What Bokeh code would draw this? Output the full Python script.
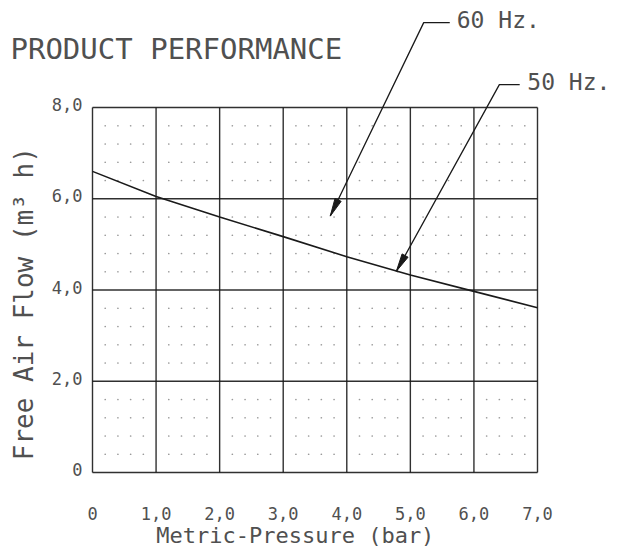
import numpy as np
from bokeh.plotting import figure
from bokeh.models import Range1d, Label
from bokeh.core.properties import value
from bokeh.embed import file_html
from bokeh.resources import INLINE

# ---- data ----
pressure = [0, 1, 2, 3, 4, 5, 6, 7]
flow = [6.6, 6.05, 5.6, 5.17, 4.73, 4.33, 3.97, 3.61]

x_ticks = [0, 1, 2, 3, 4, 5, 6, 7]
x_tick_labels = ["0", "1,0", "2,0", "3,0", "4,0", "5,0", "6,0", "7,0"]
y_ticks = [0, 2, 4, 6, 8]
y_tick_labels = ["0", "2,0", "4,0", "6,0", "8,0"]

title_text = "PRODUCT PERFORMANCE"
x_title = "Metric-Pressure (bar)"
y_title = "Free Air Flow (m³ h)"

callout_text = ["60 Hz.", "50 Hz."]
callout_tip_x = [3.74, 4.78]
callout_tip_y = [5.62, 4.41]
callout_elbow_x = [5.21, 6.40]
callout_elbow_y = [9.86, 8.50]
callout_end_x = [5.62, 6.72]
callout_text_x = [5.73, 6.84]
callout_text_y = [9.91, 8.55]

FONT = "DejaVu Sans Mono"
TXT = "#505050"
LINE = "#1a1a1a"

W, H = 612, 548
# plot box in canvas pixels (left, right, top, bottom)
BL, BR, BT, BB = 92, 537, 107, 472
XMIN, XMAX = x_ticks[0], x_ticks[-1]
YMIN, YMAX = y_ticks[0], y_ticks[-1]
sx = (BR - BL) / (XMAX - XMIN)
sy = (BB - BT) / (YMAX - YMIN)
xr = Range1d(XMIN - BL / sx, XMAX + (W - BR) / sx)
yr = Range1d(YMIN - (H - BB) / sy, YMAX + BT / sy)

p = figure(width=W, height=H, output_backend="svg", toolbar_location=None,
           x_range=xr, y_range=yr, min_border=0)
p.axis.visible = False
p.grid.visible = False
p.outline_line_color = None
p.background_fill_color = "white"
p.border_fill_color = "white"

# dot pattern: 4x4 dots in every grid cell
dx, dy = [], []
for xa, xb in zip(x_ticks[:-1], x_ticks[1:]):
    for ya, yb in zip(y_ticks[:-1], y_ticks[1:]):
        for a in (0.2, 0.4, 0.6, 0.8):
            for b in (0.2, 0.4, 0.6, 0.8):
                dx.append(xa + a * (xb - xa))
                dy.append(ya + b * (yb - ya))
p.scatter(dx, dy, size=1.7, color="#9a9a9a", line_color=None)

# grid / box
p.segment(x0=x_ticks, y0=[YMIN] * len(x_ticks), x1=x_ticks, y1=[YMAX] * len(x_ticks),
          line_color=LINE, line_width=1.4, line_alpha=0.9)
p.segment(x0=[XMIN] * len(y_ticks), y0=y_ticks, x1=[XMAX] * len(y_ticks), y1=y_ticks,
          line_color=LINE, line_width=1.4, line_alpha=0.9)

# tick labels
p.text(x=x_ticks, y=[YMIN - 41 / sy] * len(x_ticks), text=x_tick_labels,
       text_font=value(FONT), text_font_size="17px", text_color=TXT,
       text_align="center", text_baseline="middle")
p.text(x=[XMIN - 10 / sx] * len(y_ticks), y=[t + 3 / sy for t in y_ticks], text=y_tick_labels,
       text_font=value(FONT), text_font_size="17px", text_color=TXT,
       text_align="right", text_baseline="middle")

# curve
p.line(pressure, flow, line_color=LINE, line_width=1.6)

# callouts
for i in range(2):
    p.line([callout_end_x[i], callout_elbow_x[i], callout_tip_x[i]],
           [callout_elbow_y[i], callout_elbow_y[i], callout_tip_y[i]],
           line_color=LINE, line_width=1.3)
    tx, ty = callout_tip_x[i] * sx, callout_tip_y[i] * sy
    ex, ey = callout_elbow_x[i] * sx, callout_elbow_y[i] * sy
    d = np.array([tx - ex, ty - ey])
    d = d / np.linalg.norm(d)
    n = np.array([-d[1], d[0]])
    L, w = 18.0, 3.4
    b = np.array([tx, ty]) - d * L
    px = [tx, b[0] + n[0] * w, b[0] - n[0] * w]
    py = [ty, b[1] + n[1] * w, b[1] - n[1] * w]
    p.patch([v / sx for v in px], [v / sy for v in py], fill_color=LINE, line_color=LINE, line_width=1)
    p.add_layout(Label(x=callout_text_x[i], y=callout_text_y[i], text=callout_text[i],
                       text_font=FONT, text_font_size="23px", text_color=TXT,
                       text_align="left", text_baseline="middle"))

# titles
p.add_layout(Label(x=-1.29, y=9.29, text=title_text, text_font=FONT,
                   text_font_size="29px", text_color=TXT,
                   text_align="left", text_baseline="middle"))
p.add_layout(Label(x=3.19, y=YMIN - (535 - BB) / sy, text=x_title, text_font=FONT,
                   text_font_size="22px", text_color=TXT,
                   text_align="center", text_baseline="middle"))
p.add_layout(Label(x=-1.085, y=3.70, text=y_title, text_font=FONT,
                   text_font_size="26px", text_color=TXT, angle=np.pi / 2,
                   text_align="center", text_baseline="middle"))

open("out.html", "w").write(file_html(p, INLINE))
